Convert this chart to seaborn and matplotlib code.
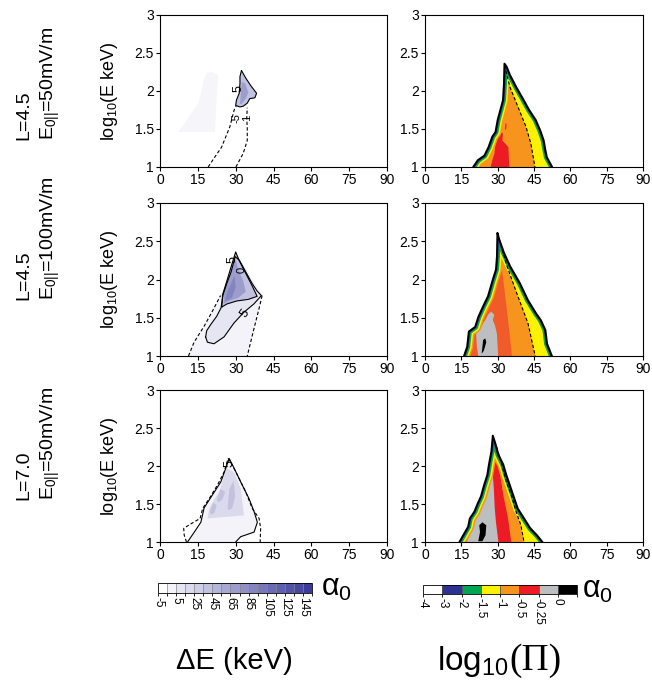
import numpy as np
import matplotlib
matplotlib.use("Agg")
import matplotlib.pyplot as plt
import matplotlib.cm as cm
from matplotlib.colors import ListedColormap, BoundaryNorm
import seaborn as sns

sns.set_style("ticks", {"axes.edgecolor": "black", "xtick.color": "black", "ytick.color": "black",
                        "text.color": "black", "axes.labelcolor": "black",
                        "xtick.direction": "out", "ytick.direction": "out"})
plt.rcParams['font.family'] = ['Liberation Sans', 'DejaVu Sans']
plt.rcParams['mathtext.fontset'] = 'custom'
plt.rcParams['mathtext.rm'] = 'Liberation Sans'
plt.rcParams['mathtext.it'] = 'Liberation Sans:italic'
plt.rcParams['mathtext.default'] = 'regular'

# axes
x_ticks = [0, 15, 30, 45, 60, 75, 90]
y_ticks = [1, 1.5, 2, 2.5, 3]
y_tick_labels = ['1', '1.5', '2', '2.5', '3']
row_L = ['L=4.5', 'L=4.5', 'L=7.0']
row_E = [r'E$_{0||}$=50mV/m', r'E$_{0||}$=100mV/m', r'E$_{0||}$=50mV/m']

# colour bars
de_bounds = [-5, 0, 5, 15, 25, 35, 45, 55, 65, 75, 85, 95, 105, 115, 125, 135, 145, 155]
de_ticks = [-5, 5, 25, 45, 65, 85, 105, 125, 145]
pi_bounds = [-4, -3, -2, -1.5, -1, -0.5, -0.25, 0, 0.25]
pi_ticks = [-4, -3, -2, -1.5, -1, -0.5, -0.25, 0]
pi_tick_labels = ['-4', '-3', '-2', '-1.5', '-1', '-0.5', '-0.25', '0']
NAVY, GREEN, YELLOW, ORANGE, RED, GREY = '#2e3192', '#00a651', '#fff200', '#f7941d', '#ed1c24', '#bcbec0'
pi_colors = ['white', NAVY, GREEN, YELLOW, ORANGE, RED, GREY, 'black']
blues = sns.blend_palette(['white', '#3a3b9b'], 17)

# ---- right column: log10(Pi) regions (outer edge, dashed contour, inner regions)
r1_lx = [19.9, 21.8, 24.5, 26.2, 27.8, 29.1, 30.0, 31.1, 32.2, 32.6, 32.8]
r1_ly = [1.0, 1.09, 1.15, 1.26, 1.40, 1.46, 1.62, 1.75, 1.88, 2.10, 2.36]
r1_rx = [33.7, 35.1, 37.7, 40.4, 43.0, 45.7, 47.6, 49.0, 49.6, 50.3, 52.5]
r1_ry = [2.32, 2.21, 2.05, 1.90, 1.75, 1.62, 1.48, 1.35, 1.24, 1.13, 1.0]
r1_dx = [33.1, 33.5, 35.1, 38.4, 41.7, 43.7, 45.4]
r1_dy = [2.34, 2.25, 2.05, 1.79, 1.53, 1.31, 1.0]
r1_red_x = [27.1, 27.8, 28.7, 29.1, 30.0, 31.1, 32.2, 31.9, 33.1, 34.4, 34.8]
r1_red_y = [1.0, 1.09, 1.18, 1.31, 1.40, 1.46, 1.44, 1.35, 1.31, 1.26, 1.0]
r1_spot_x = [33.0, 33.3, 33.7, 33.5, 33.1]
r1_spot_y = [1.50, 1.58, 1.56, 1.50, 1.49]

r2_lx = [16.1, 17.4, 18.1, 20.7, 22.0, 24.0, 26.0, 28.0, 29.3, 29.7, 29.9]
r2_ly = [1.0, 1.12, 1.32, 1.38, 1.51, 1.65, 1.78, 2.0, 2.13, 2.3, 2.61]
r2_rx = [30.6, 32.6, 35.2, 39.2, 42.5, 45.8, 47.8, 49.7, 50.4, 52.4]
r2_ry = [2.53, 2.35, 2.17, 1.95, 1.73, 1.56, 1.47, 1.34, 1.16, 1.0]
r2_dx = [30.6, 33.9, 37.9, 42.5, 45.5]
r2_dy = [2.53, 2.17, 1.82, 1.43, 1.0]
r2_red_x = [16.1, 17.4, 18.1, 20.7, 22.0, 24.0, 26.0, 28.0, 29.3, 29.7, 29.9, 30.3, 32.3, 34.2, 35.9]
r2_red_y = [1.0, 1.12, 1.32, 1.38, 1.51, 1.65, 1.78, 2.0, 2.13, 2.3, 2.61, 2.50, 2.0, 1.5, 1.0]
r2_grey_x = [22.0, 21.4, 21.1, 22.7, 24.0, 24.9, 26.0, 27.3, 28.6, 28.0, 28.9, 29.7, 30.2]
r2_grey_y = [1.0, 1.12, 1.29, 1.34, 1.43, 1.47, 1.54, 1.58, 1.54, 1.47, 1.40, 1.29, 1.0]
r2_black_x = [23.4, 24.0, 24.9, 25.3, 24.3]
r2_black_y = [1.03, 1.21, 1.23, 1.18, 1.07]

r3_lx = [14.2, 15.8, 17.8, 18.5, 20.4, 21.8, 23.1, 24.4, 25.7, 26.4, 27.4, 28.0]
r3_ly = [1.0, 1.09, 1.2, 1.31, 1.4, 1.51, 1.6, 1.75, 1.88, 2.02, 2.19, 2.40]
r3_rx = [29.0, 30.3, 32.3, 33.6, 35.0, 36.9, 38.3, 40.9, 43.5, 46.2, 48.5]
r3_ry = [2.30, 2.15, 2.02, 1.88, 1.75, 1.57, 1.44, 1.31, 1.18, 1.09, 1.0]
r3_dx = [28.8, 29.7, 31.7, 33.6, 35.6, 37.6, 39.6, 40.9]
r3_dy = [2.32, 2.24, 2.02, 1.79, 1.62, 1.40, 1.22, 1.0]
r3_red_x = [14.2, 15.8, 17.8, 18.5, 20.4, 21.8, 23.1, 24.4, 25.7, 26.4, 27.4, 29.0, 30.6, 32.3, 34.3, 35.6]
r3_red_y = [1.0, 1.09, 1.2, 1.31, 1.4, 1.51, 1.6, 1.75, 1.88, 2.02, 2.19, 2.19, 1.97, 1.62, 1.31, 1.0]
r3_grey_x = [17.2, 18.5, 20.4, 22.4, 23.7, 25.1, 25.7, 26.8, 27.4, 28.0, 28.0, 28.4, 28.8, 29.3, 30.3]
r3_grey_y = [1.0, 1.13, 1.26, 1.42, 1.58, 1.68, 1.79, 1.93, 2.08, 2.12, 1.88, 1.71, 1.44, 1.26, 1.0]
r3_black_x = [22.0, 22.7, 22.4, 23.7, 25.3, 25.0, 23.7]
r3_black_y = [1.01, 1.13, 1.22, 1.26, 1.22, 1.09, 1.01]

# ---- left column: delta E shading and contours
l1_ghost_x = [7.3, 11.9, 15.2, 16.5, 17.2, 18.5, 20.5, 23.1, 22.7, 22.2, 21.8]
l1_ghost_y = [1.46, 1.68, 1.84, 2.01, 2.14, 2.24, 2.25, 2.21, 2.05, 1.75, 1.46]
l1_blob_x = [32.3, 34.0, 36.0, 38.3, 37.6, 35.6, 34.6, 33.0, 31.7, 30.0, 30.3, 31.4, 31.7, 31.7]
l1_blob_y = [2.27, 2.17, 2.07, 1.97, 1.91, 1.90, 1.84, 1.80, 1.79, 1.81, 1.88, 1.97, 2.10, 2.19]
l1_core_x = [31.8, 32.4, 33.8, 35.0, 34.0, 32.6, 31.6]
l1_core_y = [1.86, 2.12, 2.10, 1.98, 1.90, 1.84, 1.82]
l1_dash1_x = [19.1, 21.5, 24.4, 27.7, 29.4, 30.2]
l1_dash1_y = [1.0, 1.12, 1.26, 1.53, 1.75, 1.80]
l1_dash2_x = [30.1, 33.0, 34.6, 34.6, 34.4, 34.6]
l1_dash2_y = [1.0, 1.18, 1.35, 1.50, 1.65, 1.78]

l2_base_x = [11.3, 13.5, 17.5, 21.0, 24.0, 26.0, 28.0, 30.0, 31.9, 35.9, 40.5, 39.2, 37.2, 34.6]
l2_base_y = [1.0, 1.18, 1.39, 1.60, 1.79, 1.92, 2.14, 2.38, 2.25, 2.04, 1.79, 1.61, 1.35, 1.0]
l2_c5_x = [18.1, 18.5, 20.3, 22.5, 24.2, 25.0, 26.5, 28.2, 29.8, 31.5, 34.0, 36.5, 38.5, 40.2,
           37.2, 33.2, 29.3, 25.4, 21.4, 18.8, 18.1]
l2_c5_y = [1.25, 1.33, 1.42, 1.52, 1.63, 1.80, 1.95, 2.10, 2.30, 2.25, 2.10, 1.95, 1.85, 1.79,
           1.68, 1.57, 1.43, 1.25, 1.16, 1.18, 1.25]
l2_mid_x = [24.5, 26.5, 30.5, 35.0, 38.5, 36.5, 34.0, 31.5, 30.0, 28.5, 26.5, 24.8]
l2_mid_y = [1.64, 1.68, 1.72, 1.74, 1.78, 1.92, 2.08, 2.24, 2.36, 2.20, 1.98, 1.80]
l2_dark_x = [25.2, 27.5, 31.0, 34.0, 33.0, 31.0, 29.8, 28.3, 26.5, 25.3]
l2_dark_y = [1.68, 1.72, 1.76, 1.84, 1.98, 2.14, 2.28, 2.12, 1.95, 1.80]
l2_core_x = [25.8, 28.5, 30.0, 29.5, 28.2, 26.5]
l2_core_y = [1.72, 1.76, 1.90, 2.05, 1.95, 1.82]
l2_dashL_x = [11.3, 13.5, 17.5, 21.0, 24.0]
l2_dashL_y = [1.0, 1.18, 1.39, 1.60, 1.79]
l2_dashR_x = [40.5, 39.2, 37.2, 34.6]
l2_dashR_y = [1.79, 1.61, 1.35, 1.0]

l3_solid_x = [10.9, 13.6, 16.2, 17.5, 20.8, 24.1, 26.5, 27.4, 29.4, 32.0, 35.3, 37.3, 38.6, 37.3, 32.0, 30.0]
l3_solid_y = [1.0, 1.13, 1.26, 1.45, 1.62, 1.79, 2.01, 2.10, 1.97, 1.79, 1.57, 1.40, 1.26, 1.13, 1.07, 1.0]
l3_dash_x = [10.5, 9.6, 9.4, 12.3, 15.9, 16.9, 19.5, 22.8, 25.4, 27.0, 28.1, 30.7, 34.0, 36.6, 39.3, 39.9, 39.7]
l3_dash_y = [1.0, 1.09, 1.18, 1.24, 1.31, 1.44, 1.57, 1.75, 1.92, 2.10, 2.05, 1.88, 1.66, 1.44, 1.31, 1.18, 1.0]
l3_mid_x = [18.8, 19.5, 21.5, 23.5, 25.4, 26.1, 29.4, 32.0, 33.3]
l3_mid_y = [1.31, 1.44, 1.56, 1.66, 1.88, 1.97, 1.92, 1.70, 1.35]
l3_spot1_x = [19.8, 21.0, 22.5, 21.5, 20.0]
l3_spot1_y = [1.40, 1.52, 1.48, 1.38, 1.36]
l3_spot2_x = [22.5, 24.0, 25.8, 24.8, 23.2]
l3_spot2_y = [1.56, 1.70, 1.66, 1.56, 1.52]
l3_spot3_x = [26.8, 27.5, 29.2, 29.8, 28.6, 27.2]
l3_spot3_y = [1.44, 1.70, 1.80, 1.60, 1.44, 1.42]

fig = plt.figure(figsize=(6.52, 6.83), dpi=100)
W, H = 652, 683


def box(l, t, r, b):
    return [l / W, 1 - b / H, (r - l) / W, (b - t) / H]


rows = [(15, 167), (203, 356), (390, 542)]
axes_l = [fig.add_axes(box(160, t, 387, b)) for t, b in rows]
axes_r = [fig.add_axes(box(425, t, 643, b)) for t, b in rows]


def style(ax):
    ax.set_xlim(0, 90)
    ax.set_ylim(1, 3)
    ax.set_xticks(x_ticks)
    ax.set_yticks(y_ticks)
    ax.set_yticklabels(y_tick_labels)
    ax.set_xlabel('')
    ax.set_ylabel('')
    ax.tick_params(labelsize=10, length=3, width=0.8, pad=1.5)
    for s in ax.spines.values():
        s.set_linewidth(0.8)
        s.set_zorder(20)


def dashed(ax, x, y, z=12):
    sns.lineplot(x=x, y=y, sort=False, estimator=None, ax=ax, color='black', lw=0.8,
                 linestyle=(0, (3, 2)), zorder=z)


def solid(ax, x, y, z=12):
    sns.lineplot(x=x, y=y, sort=False, estimator=None, ax=ax, color='black', lw=0.8, zorder=z)


def draw_pi(ax, lx, ly, rx, ry, dx, dy, red_x, red_y, red_col, grey=None, black=None, spot=None):
    # outer edge, pushed just below the axis so edge bands do not run along y=1
    ex = [lx[0]] + lx + rx + [rx[-1]]
    ey = [0.9] + ly + ry + [0.9]
    base = ax.fill(ex, ey, color=ORANGE, lw=0, zorder=1)[0]
    ax.fill(red_x, red_y, color=red_col, lw=0, zorder=2)
    if spot is not None:
        ax.fill(*spot, color=red_col, lw=0, zorder=2)
    if grey is not None:
        ax.fill(*grey, color=GREY, lw=0, zorder=3)
    if black is not None:
        ax.fill(*black, color='black', lw=0, zorder=4)

    def band(col, lw, z):
        ln, = ax.plot(ex + ex[:1], ey + ey[:1], color=col, lw=lw, zorder=z, solid_joinstyle='round')
        ln.set_clip_path(base)
        ln.set_clip_box(ax.bbox)

    band(ORANGE, 8.6, 5)
    ax.fill(dx + rx[::-1], dy + ry[::-1], color=YELLOW, lw=0, zorder=6)
    band(YELLOW, 6.5, 7)
    band(GREEN, 4.3, 8)
    band(NAVY, 2.2, 9)
    ax.plot(lx + rx, ly + ry, color='black', lw=1.4, zorder=10, solid_joinstyle='round')
    dashed(ax, dx, dy, 11)


draw_pi(axes_r[0], r1_lx, r1_ly, r1_rx, r1_ry, r1_dx, r1_dy, r1_red_x, r1_red_y, RED,
        spot=(r1_spot_x, r1_spot_y))
draw_pi(axes_r[1], r2_lx, r2_ly, r2_rx, r2_ry, r2_dx, r2_dy, r2_red_x, r2_red_y, '#f15a29',
        grey=(r2_grey_x, r2_grey_y), black=(r2_black_x, r2_black_y))
draw_pi(axes_r[2], r3_lx, r3_ly, r3_rx, r3_ry, r3_dx, r3_dy, r3_red_x, r3_red_y, RED,
        grey=(r3_grey_x, r3_grey_y), black=(r3_black_x, r3_black_y))

# left column
ax = axes_l[0]
ax.fill(l1_ghost_x, l1_ghost_y, color=blues[1], lw=0, alpha=0.8)
ax.fill(l1_blob_x, l1_blob_y, color=blues[5], lw=0)
ax.fill(l1_core_x, l1_core_y, color=blues[8], lw=0)
solid(ax, l1_blob_x + l1_blob_x[:1], l1_blob_y + l1_blob_y[:1])
dashed(ax, l1_dash1_x, l1_dash1_y)
dashed(ax, l1_dash2_x, l1_dash2_y)
ax.text(31.0, 2.03, '5', rotation=90, fontsize=9, ha='center', va='center', zorder=13)
ax.text(30.3, 1.64, '-5', rotation=90, fontsize=8, ha='center', va='center', zorder=13)
ax.text(34.6, 1.64, '1', rotation=90, fontsize=8, ha='center', va='center', zorder=13)

ax = axes_l[1]
ax.fill(l2_base_x, l2_base_y, color=blues[1], lw=0)
ax.fill(l2_c5_x, l2_c5_y, color=blues[2], lw=0)
ax.fill(l2_mid_x, l2_mid_y, color=blues[5], lw=0)
ax.fill(l2_dark_x, l2_dark_y, color=blues[8], lw=0)
ax.fill(l2_core_x, l2_core_y, color=blues[10], lw=0)
solid(ax, l2_c5_x, l2_c5_y)
solid(ax, l2_mid_x + l2_mid_x[:1], l2_mid_y + l2_mid_y[:1])
dashed(ax, l2_dashL_x, l2_dashL_y)
dashed(ax, l2_dashR_x, l2_dashR_y)
ax.text(33.6, 1.55, '5', rotation=55, fontsize=9, ha='center', va='center', zorder=13)
ax.text(28.8, 2.26, '5', rotation=90, fontsize=9, ha='center', va='center', zorder=13)
ax.text(32.5, 2.12, '0', rotation=90, fontsize=8, ha='center', va='center', zorder=13)

ax = axes_l[2]
ax.fill(l3_solid_x, l3_solid_y, color=blues[1], lw=0)
ax.fill(l3_mid_x, l3_mid_y, color=blues[3], lw=0)
for sx, sy in [(l3_spot1_x, l3_spot1_y), (l3_spot2_x, l3_spot2_y), (l3_spot3_x, l3_spot3_y)]:
    ax.fill(sx, sy, color=blues[5], lw=0)
solid(ax, l3_solid_x, l3_solid_y)
dashed(ax, l3_dash_x, l3_dash_y)
ax.text(27.6, 2.03, '5', rotation=90, fontsize=9, ha='center', va='center', zorder=13)

for ax in axes_l + axes_r:
    style(ax)

# row and axis labels
label_bottoms = [140, 300, 500]
for i, (t, b) in enumerate(rows):
    fig.text(24 / W, 1 - label_bottoms[i] / H, row_L[i], rotation=90, rotation_mode='anchor',
             ha='left', va='center', fontsize=14)
    fig.text(50 / W, 1 - label_bottoms[i] / H, row_E[i], rotation=90, rotation_mode='anchor',
             ha='left', va='center', fontsize=14)
    fig.text(109 / W, 1 - (t + b) / 2 / H, r'log$_{10}$(E keV)', rotation=90, rotation_mode='anchor',
             ha='center', va='center', fontsize=13)

# colour bars
cax1 = fig.add_axes(box(158, 583, 312, 593))
cb1 = fig.colorbar(cm.ScalarMappable(norm=BoundaryNorm(de_bounds, 17), cmap=ListedColormap(blues)),
                   cax=cax1, orientation='horizontal', spacing='uniform', ticks=de_ticks, drawedges=True)
cb1.ax.set_xticklabels([str(v) for v in de_ticks], rotation=-90, fontsize=8.5, va='top')
cb1.dividers.set_color('#888888')
cb1.dividers.set_linewidth(0.5)
cb1.outline.set_linewidth(0.6)
cb1.ax.tick_params(length=2, width=0.6, pad=1)

cax2 = fig.add_axes(box(423, 585, 577, 594))
cb2 = fig.colorbar(cm.ScalarMappable(norm=BoundaryNorm(pi_bounds, 8), cmap=ListedColormap(pi_colors)),
                   cax=cax2, orientation='horizontal', spacing='uniform', ticks=pi_ticks, drawedges=True)
cb2.ax.set_xticklabels(pi_tick_labels, rotation=-90, fontsize=8.5, va='top')
cb2.dividers.set_color('#555555')
cb2.dividers.set_linewidth(0.6)
cb2.outline.set_linewidth(0.6)
cb2.ax.tick_params(length=2, width=0.6, pad=1)

fig.text(321 / W, 1 - 588 / H, r'α$_0$', fontsize=22, va='center', ha='left')
fig.text(582 / W, 1 - 590 / H, r'α$_0$', fontsize=22, va='center', ha='left')

fig.text(234 / W, 1 - 661 / H, 'ΔE (keV)', fontsize=21, ha='center', va='center')
fig.text(437 / W, 1 - 670 / H, r'log$_{10}$', fontsize=24, ha='left', va='baseline')
fig.text(509 / W, 1 - 670 / H, '(Π)', fontsize=27, ha='left', va='baseline', family='Liberation Serif')

fig.savefig('out.png', dpi=100)
